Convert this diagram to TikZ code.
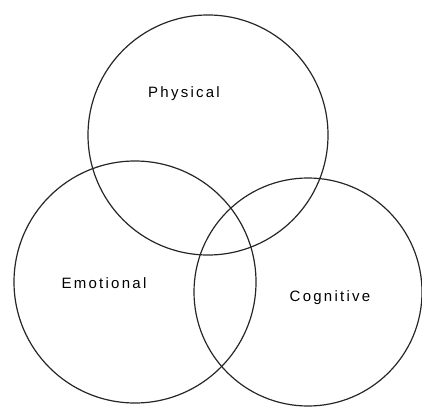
\documentclass[tikz,border=0pt]{standalone}
\usepackage{fontspec}
\setmainfont{Liberation Sans}[LetterSpace=15]
\begin{document}
\begin{tikzpicture}[x=1pt,y=-1pt,
  ring/.style={draw=black!85,line width=1.2pt,circle,inner sep=0pt},
  lbl/.style={font=\fontsize{15}{18}\selectfont,inner sep=0pt,anchor=base}]
\useasboundingbox (0,0) rectangle (422,409);
\node[ring,minimum size=240pt] (phys) at (208,135) {};
\node[ring,minimum size=242pt] (emo) at (135,282) {};
\node[ring,minimum size=228pt] (cog) at (308,292) {};
\node[lbl] (tphys) at (184,98) {Physical};
\node[lbl] (temo) at (104,288) {Emotional};
\node[lbl] (tcog) at (330,301) {Cognitive};
\end{tikzpicture}
\end{document}
